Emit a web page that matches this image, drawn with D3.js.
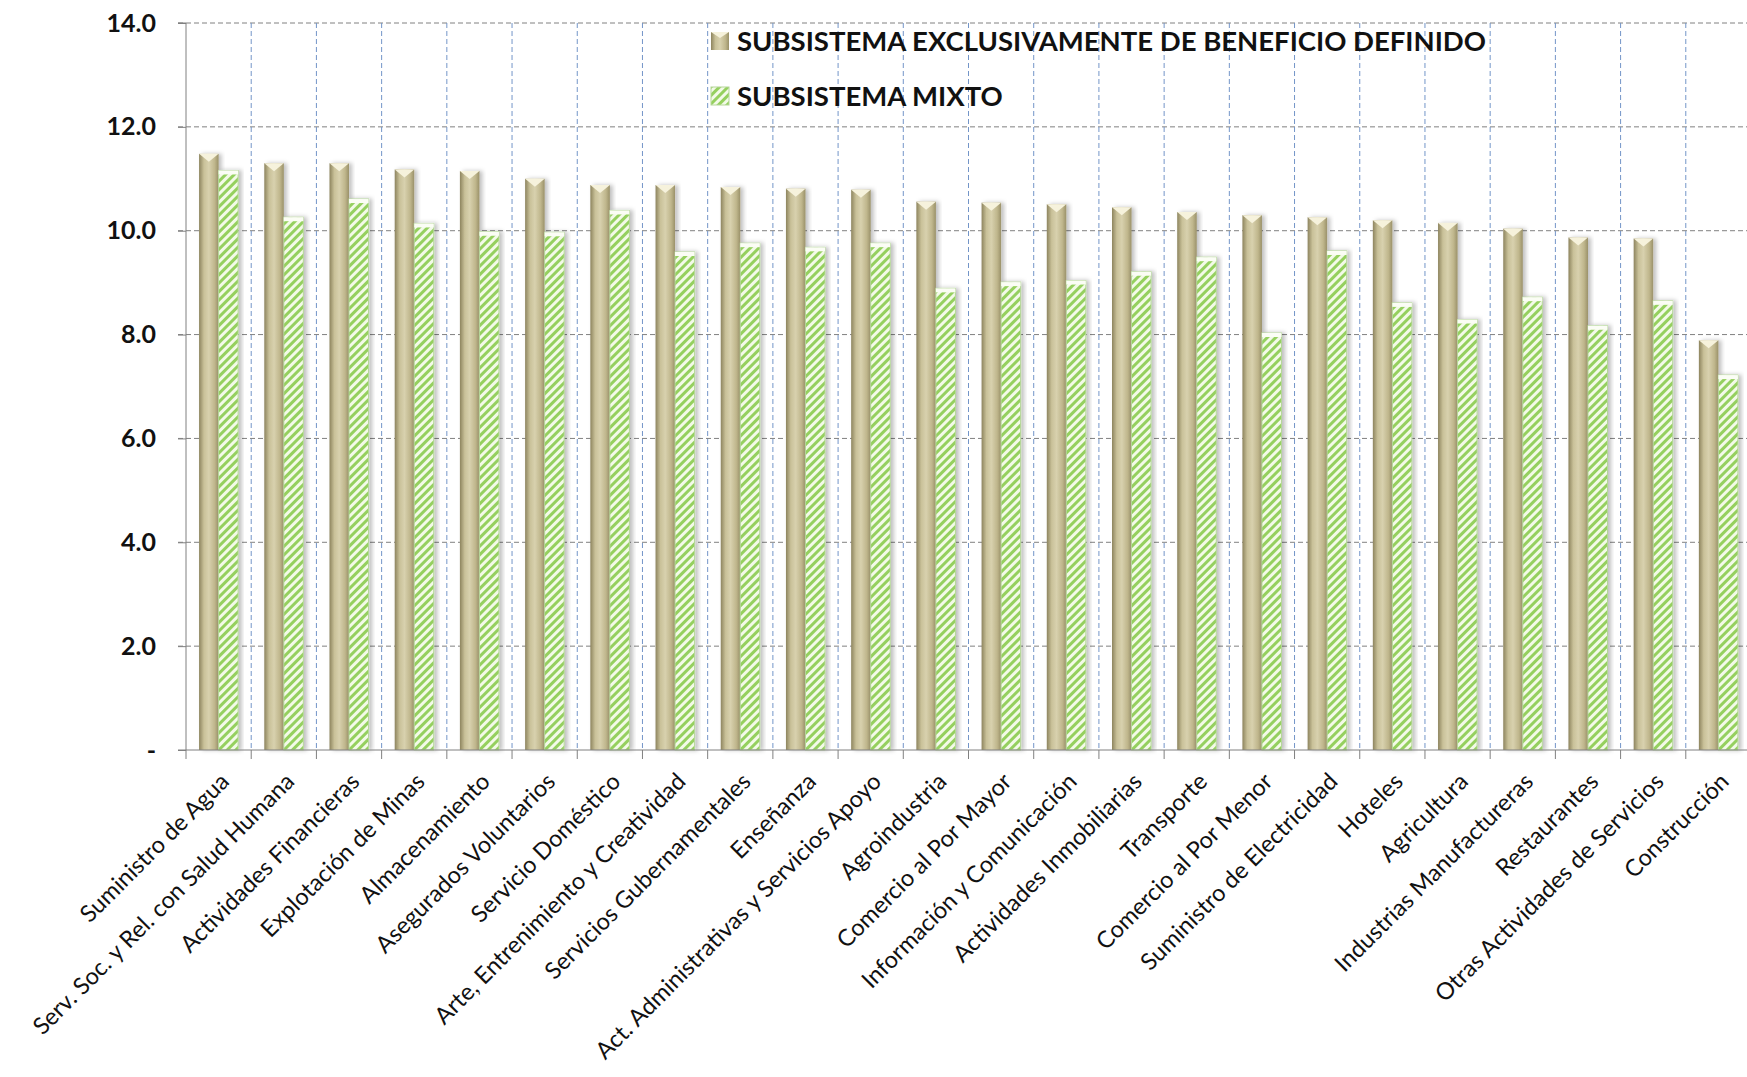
<!DOCTYPE html>
<html lang="es">
<head>
<meta charset="UTF-8">
<title>Subsistemas por actividad</title>
<style>
  body { margin: 0; background: #fff; }
  #grafico { display: block; }
  .tick-y { font-family: Lato, "Open Sans", sans-serif; font-weight: bold; font-size: 25px; fill: #111; }
  .cat { font-family: Lato, "Open Sans", sans-serif; font-size: 23.5px; fill: #111; }
  .leyenda { font-family: Lato, "Open Sans", sans-serif; font-weight: bold; font-size: 27.5px; fill: #111; }
</style>
<script src="https://d3js.org/d3.v7.min.js"></script>
</head>
<body>
<svg id="grafico" width="1747" height="1077"></svg>
<script>
const categorias = [
  "Suministro de Agua", "Serv. Soc. y Rel. con Salud Humana", "Actividades Financieras",
  "Explotación de Minas", "Almacenamiento", "Asegurados Voluntarios", "Servicio Doméstico",
  "Arte, Entrenimiento y Creatividad", "Servicios Gubernamentales", "Enseñanza",
  "Act. Administrativas y Servicios Apoyo", "Agroindustria", "Comercio al Por Mayor",
  "Información y Comunicación", "Actividades Inmobiliarias", "Transporte",
  "Comercio al Por Menor", "Suministro de Electricidad", "Hoteles", "Agricultura",
  "Industrias Manufactureras", "Restaurantes", "Otras Actividades de Servicios", "Construcción"
];
const series = ["SUBSISTEMA EXCLUSIVAMENTE DE BENEFICIO DEFINIDO", "SUBSISTEMA MIXTO"];
const beneficioDefinido = [11.48, 11.30, 11.30, 11.18, 11.15, 11.00, 10.88, 10.88, 10.84, 10.81,
  10.79, 10.56, 10.54, 10.51, 10.45, 10.36, 10.30, 10.26, 10.20, 10.15, 10.04, 9.87, 9.85, 7.89];
const mixto = [11.16, 10.26, 10.61, 10.14, 9.98, 9.97, 10.39, 9.59, 9.76, 9.68,
  9.76, 8.89, 9.01, 9.04, 9.21, 9.49, 8.03, 9.61, 8.61, 8.29, 8.72, 8.17, 8.65, 7.22];
const ticksY = [0, 2, 4, 6, 8, 10, 12, 14];

const svg = d3.select('#grafico');
const izq = 186, der = 1751, arriba = 23, abajo = 750;

const x0 = d3.scaleBand().domain(categorias).range([izq, der]).padding(0);
const x1 = d3.scaleBand().domain(series).range([0, x0.bandwidth()]).paddingInner(0).paddingOuter(0.67);
const y = d3.scaleLinear().domain([0, 14]).range([abajo, arriba]);

const defs = svg.append('defs');
const grad = defs.append('linearGradient').attr('id', 'beige').attr('x1', 0).attr('x2', 1).attr('y1', 0).attr('y2', 0);
[[0, '#8d845e'], [0.25, '#c9c199'], [0.5, '#d8d1ae'], [0.8, '#bfb68c'], [1, '#9a9169']]
  .forEach(([o, c]) => grad.append('stop').attr('offset', o).attr('stop-color', c));

const rayas = defs.append('pattern').attr('id', 'rayas').attr('patternUnits', 'userSpaceOnUse')
  .attr('width', 6).attr('height', 6).attr('patternTransform', 'rotate(45)');
rayas.append('rect').attr('width', 6).attr('height', 6).attr('fill', '#f3fae8');
rayas.append('rect').attr('width', 3).attr('height', 6).attr('fill', '#95d05e');

const sombra = defs.append('filter').attr('id', 'sombra').attr('x', '-30%').attr('width', '160%');
sombra.append('feDropShadow').attr('dx', 3).attr('dy', 0).attr('stdDeviation', 2)
  .attr('flood-color', '#000').attr('flood-opacity', 0.25);

// rejilla horizontal
svg.append('g').selectAll('line').data(ticksY.filter(d => d > 0)).join('line')
  .attr('x1', izq - 8).attr('x2', der).attr('y1', d => y(d)).attr('y2', d => y(d))
  .attr('stroke', '#808080').attr('stroke-width', 1).attr('stroke-dasharray', '5,3');

// rejilla vertical
svg.append('g').selectAll('line').data(categorias.slice(1)).join('line')
  .attr('x1', d => x0(d)).attr('x2', d => x0(d)).attr('y1', arriba).attr('y2', abajo)
  .attr('stroke', '#7395c8').attr('stroke-width', 1).attr('stroke-dasharray', '5,3');

// eje y
svg.append('g').attr('transform', `translate(${izq},0)`)
  .call(d3.axisLeft(y).tickValues(ticksY).tickSize(8).tickPadding(22)
    .tickFormat(d => d === 0 ? '-' : d3.format('.1f')(d)))
  .call(g => g.selectAll('line, path').attr('stroke', '#808080'))
  .call(g => g.select('.domain').attr('d', `M-8,${arriba}H0V${abajo}`))
  .call(g => g.selectAll('text').attr('class', 'tick-y').attr('font-family', null).attr('font-size', null));

// barras
const filas = categorias.map((c, i) => ({ c, v: [beneficioDefinido[i], mixto[i]] }));
const grupos = svg.append('g').selectAll('g').data(filas).join('g')
  .attr('transform', d => `translate(${x0(d.c)},0)`);

grupos.append('rect')
  .attr('x', x1(series[0])).attr('width', x1.bandwidth())
  .attr('y', d => y(d.v[0])).attr('height', d => abajo - y(d.v[0]))
  .attr('fill', 'url(#beige)').attr('filter', 'url(#sombra)');
grupos.append('path')
  .attr('d', d => {
    const xa = x1(series[0]), w = x1.bandwidth(), ya = y(d.v[0]);
    return `M${xa},${ya}H${xa + w}L${xa + w / 2},${ya + 8}Z`;
  })
  .attr('fill', '#f6f2dc');

grupos.append('rect')
  .attr('x', x1(series[1])).attr('width', x1.bandwidth())
  .attr('y', d => y(d.v[1])).attr('height', d => abajo - y(d.v[1]))
  .attr('fill', 'url(#rayas)').attr('stroke', '#b5d69a').attr('stroke-width', 1)
  .attr('filter', 'url(#sombra)');
grupos.append('rect')
  .attr('x', x1(series[1])).attr('width', x1.bandwidth())
  .attr('y', d => y(d.v[1])).attr('height', 4)
  .attr('fill', '#fbfdf5');

// eje x
svg.append('line').attr('x1', izq - 8).attr('x2', der).attr('y1', abajo).attr('y2', abajo)
  .attr('stroke', '#808080');
svg.append('g').selectAll('line').data(categorias).join('line')
  .attr('x1', d => x0(d)).attr('x2', d => x0(d)).attr('y1', abajo).attr('y2', abajo + 9)
  .attr('stroke', '#808080');

svg.append('g').selectAll('text').data(categorias).join('text')
  .attr('class', 'cat')
  .attr('text-anchor', 'end')
  .attr('transform', d => `translate(${x0(d) + x0.bandwidth() / 2 + 12},${abajo + 33}) rotate(-45)`)
  .text(d => d);

// leyenda
const ley = svg.append('g').attr('transform', 'translate(711,0)');
const itemY = [41, 96];
ley.append('rect').attr('x', 0).attr('y', itemY[0] - 9).attr('width', 18).attr('height', 18)
  .attr('fill', 'url(#beige)');
ley.append('path').attr('d', `M0,${itemY[0] - 9}H18L9,${itemY[0] - 3}Z`).attr('fill', '#f6f2dc');
ley.append('rect').attr('x', 0).attr('y', itemY[1] - 9).attr('width', 18).attr('height', 18)
  .attr('fill', 'url(#rayas)').attr('stroke', '#b5d69a');
ley.selectAll('text').data(series).join('text')
  .attr('class', 'leyenda')
  .attr('x', 26).attr('y', (d, i) => itemY[i]).attr('dy', '0.36em')
  .text(d => d);
</script>
</body>
</html>
